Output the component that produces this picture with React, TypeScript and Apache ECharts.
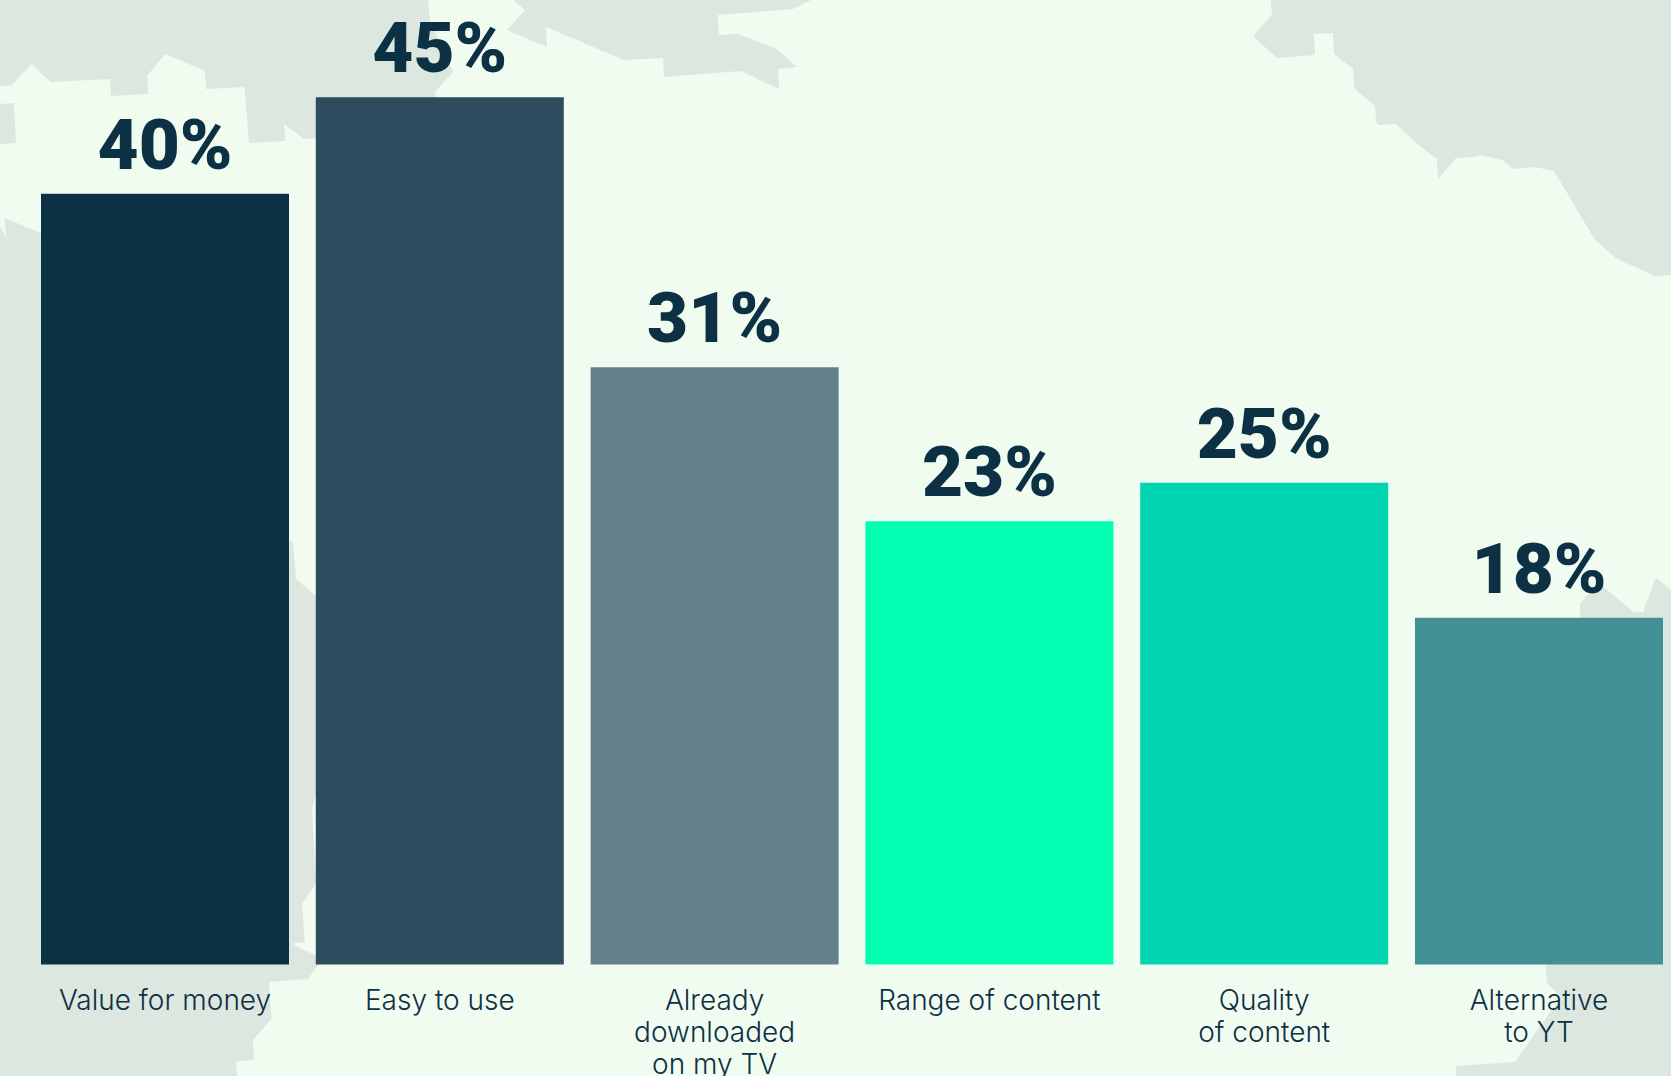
import React, { useEffect, useRef } from "react";
import * as echarts from "echarts";

// Reasons for choosing the service, share of respondents in percent.
const categories = [
  "Value for money",
  "Easy to use",
  "Already\ndownloaded\non my TV",
  "Range of content",
  "Quality\nof content",
  "Alternative\nto YT",
];
const shares = [40, 45, 31, 23, 25, 18];
const barColors = ["#0C3044", "#2D4C5E", "#64808B", "#00FFB0", "#00D4B0", "#439094"];

const INK = "#0C3044";
const LAND = "#DCE7DF";
const PAPER = "#F1FCF1";

// Backdrop map: land masses behind the bars, in page pixels.
const landShapes: number[][][] = [
  [
    [0, 0], [428, 0], [430, 20], [453, 72], [435, 92], [435, 140], [316, 138], [304, 139], [284, 124],
    [285.5, 141], [249, 143], [244.5, 87], [206, 89], [205, 71], [165, 54], [147, 76], [148.5, 94],
    [111, 96], [110, 79], [50.5, 82], [31.4, 64], [12, 85], [0, 86],
  ],
  [[0, 104], [14, 103], [16, 143], [0, 144]],
  [
    [0, 227], [6, 237], [4.6, 218], [41, 233], [200, 300], [270, 541], [293, 541], [296, 579], [316, 596],
    [340, 700], [316, 795], [312, 808], [316, 883], [302, 904], [305, 942], [289, 944], [287, 941],
    [316, 956], [319, 964], [308, 979], [269, 982], [271.5, 1019], [253, 1040], [254, 1060], [236, 1061],
    [237, 1076], [0, 1076],
  ],
  [
    [513, 0], [525, 10], [507, 30], [547, 47], [546, 27], [624, 60], [663, 58], [664, 77], [741, 71],
    [779, 89], [778, 69], [797, 67], [777, 49], [738, 34], [719, 35], [718, 15], [793, 9], [811, 0],
  ],
  [
    [1271, 0], [1272, 15], [1254, 35], [1256, 39], [1277, 58], [1315, 55], [1314, 34], [1333, 33],
    [1334, 54], [1353, 69], [1354, 86], [1356, 90], [1375, 106], [1376, 121], [1378, 125], [1396, 124],
    [1417, 144], [1437, 159], [1438, 179], [1456, 158], [1476, 157], [1479, 155], [1503, 160], [1513, 169],
    [1535, 167], [1554, 171], [1595, 240], [1617, 259], [1655, 276], [1671, 275], [1671, 0],
  ],
  [
    [1580, 620], [1580, 603], [1599, 583], [1634, 612], [1643, 612], [1655, 579], [1658, 579], [1671, 590],
    [1671, 1076], [1456, 1076], [1456, 1066], [1515, 1062], [1561, 997], [1547, 983], [1545.6, 964], [1545, 620],
  ],
];

export default function App() {
  const chartRef = useRef<HTMLDivElement>(null);

  useEffect(() => {
    const chart = echarts.init(chartRef.current!, null, { renderer: "svg" });
    chart.setOption({
      animation: false,
      backgroundColor: PAPER,
      graphic: {
        elements: landShapes.map((points) => ({
          type: "polygon",
          silent: true,
          z: 0,
          shape: { points },
          style: { fill: LAND },
        })),
      },
      grid: {
        left: 27.6,
        top: 1,
        width: 1648.8,
        height: 963.5,
        containLabel: false,
        outerBoundsMode: "none",
      },
      xAxis: {
        type: "category",
        data: categories,
        axisLine: { show: false },
        axisTick: { show: false },
        axisLabel: {
          interval: 0,
          margin: 19,
          color: INK,
          fontFamily: "Inter",
          fontWeight: 300,
          fontSize: 28,
          lineHeight: 32,
        },
      },
      yAxis: { type: "value", min: 0, max: 50, show: false },
      series: [
        {
          type: "bar",
          barWidth: 248,
          data: shares.map((value, i) => ({ value, itemStyle: { color: barColors[i] } })),
          label: {
            show: true,
            position: "top",
            distance: 14,
            formatter: "{c}%",
            color: INK,
            fontFamily: "Roboto",
            fontWeight: 900,
            fontSize: 71,
          },
        },
      ],
    });
    return () => chart.dispose();
  }, []);

  return (
    <div
      ref={chartRef}
      style={{ position: "fixed", left: 0, top: 0, width: 1671, height: 1076, overflow: "hidden" }}
    />
  );
}
